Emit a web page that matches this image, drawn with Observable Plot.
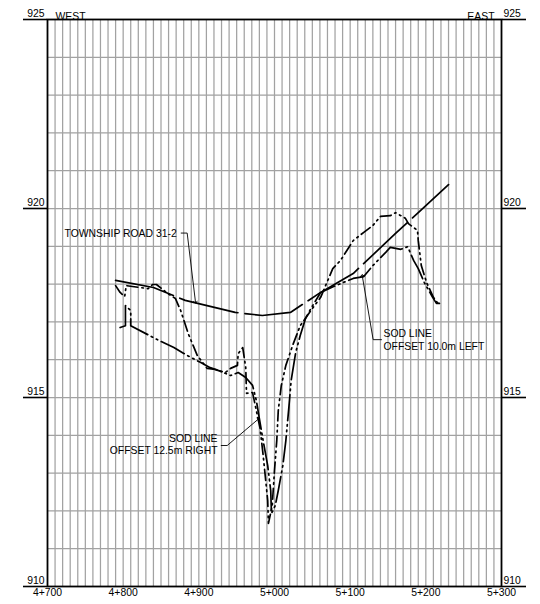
<!DOCTYPE html>
<html>
<head>
<meta charset="utf-8">
<script src="https://cdn.jsdelivr.net/npm/d3@7"></script>
<script src="https://cdn.jsdelivr.net/npm/@observablehq/plot@0.6"></script>
<style>
  html, body { margin: 0; padding: 0; background: #fff; }
</style>
</head>
<body>
<div id="chart"></div>
<script>
// Station ticks (m) and elevation ticks (m)
const stationTicks = [4700, 4800, 4900, 5000, 5100, 5200, 5300];
const elevTicks = [910, 915, 920, 925];

// Township Road 31-2 centreline profile
const roadStation = [4790, 4840, 4882, 4948, 4984, 5021, 5061, 5104, 5160, 5190, 5230];
const roadElev    = [918.10, 917.91, 917.57, 917.25, 917.17, 917.25, 917.78, 918.28, 919.34, 919.89, 920.63];

// Sod line profile (dash-dot-dot, peaked)
const sodAStation = [4790, 4796, 4802, 4804, 4833, 4839, 4844, 4859, 4869, 4876, 4886, 4898, 4911, 4922, 4935, 4942, 4951, 4952, 4958, 4962, 4963, 4971, 4981, 4985, 4988, 4991, 4992, 4997, 5000, 5003, 5005, 5009, 5015, 5024, 5034, 5048, 5061, 5077, 5087, 5104, 5118, 5130, 5140, 5153, 5160, 5167, 5173, 5177, 5189, 5190, 5194, 5201, 5210, 5216];
const sodAElev    = [917.96, 917.78, 917.67, 917.96, 917.88, 917.99, 917.99, 917.75, 917.62, 917.30, 916.69, 916.11, 915.77, 915.74, 915.66, 915.77, 915.85, 916.16, 916.32, 915.79, 915.11, 915.13, 914.18, 913.47, 912.88, 912.28, 911.67, 912.14, 913.07, 913.86, 914.66, 915.32, 915.85, 916.38, 916.90, 917.30, 917.65, 918.41, 918.62, 919.15, 919.37, 919.55, 919.79, 919.81, 919.89, 919.81, 919.74, 919.60, 919.42, 919.15, 918.49, 918.04, 917.65, 917.49];

// Sod line profile (long dash-dot-dot)
const sodBStation = [4796, 4803, 4803, 4810, 4810, 4847, 4867, 4885, 4902, 4915, 4929, 4942, 4952, 4962, 4971, 4976, 4980, 4985, 4991, 4995, 4996, 5001, 5005, 5011, 5015, 5019, 5022, 5028, 5034, 5041, 5048, 5061, 5081, 5104, 5118, 5130, 5147, 5153, 5167, 5176, 5184, 5190, 5198, 5209, 5214, 5218];
const sodBElev    = [916.85, 916.90, 917.43, 917.30, 916.90, 916.51, 916.32, 916.11, 915.93, 915.79, 915.69, 915.58, 915.66, 915.53, 915.32, 914.92, 914.44, 913.86, 913.20, 912.54, 911.93, 912.14, 912.54, 913.20, 913.86, 914.74, 915.45, 916.19, 916.64, 917.09, 917.35, 917.78, 917.96, 918.15, 918.20, 918.49, 918.84, 918.97, 918.92, 918.99, 918.62, 918.41, 918.04, 917.65, 917.49, 917.49];

// Annotation labels: left-aligned and right-aligned
const startText    = ["TOWNSHIP ROAD 31-2", "SOD LINE", "OFFSET 10.0m LEFT"];
const startStation = [4722.5, 5144, 5144];
const startElev    = [919.34, 916.69, 916.35];
const endText      = ["SOD LINE", "OFFSET 12.5m RIGHT"];
const endStation   = [4924.7, 4924.7];
const endElev      = [913.91, 913.59];

// Leader lines
const leaderRoadS = [4876.7, 4884.6, 4895.6];
const leaderRoadE = [919.35, 919.35, 917.52];
const leaderLeftS = [5141.4, 5130.4, 5115.9];
const leaderLeftE = [916.53, 916.53, 918.23];
const leaderRightS = [4929.6, 4937.5, 4979.3];
const leaderRightE = [913.73, 913.73, 914.44];

const toRows = (xs, ys) => xs.map((x, i) => ({x, y: ys[i]}));
const road = toRows(roadStation, roadElev);
const sodA = toRows(sodAStation, sodAElev);
const sodB = toRows(sodBStation, sodBElev);
const startLabels = startText.map((t, i) => ({t, x: startStation[i], y: startElev[i]}));
const endLabels = endText.map((t, i) => ({t, x: endStation[i], y: endElev[i]}));

const fmtStation = d => `${Math.floor(d / 1000)}+${String(d % 1000).padStart(3, "0")}`;
const FS = 10.4;

const chart = Plot.plot({
  width: 540,
  height: 604,
  marginLeft: 47,
  marginRight: 39,
  marginTop: 19,
  marginBottom: 18,
  x: {domain: [4700, 5300], label: null},
  y: {domain: [910, 925], label: null},
  style: {fontFamily: "'Liberation Sans', Arial, sans-serif", fontSize: FS + "px", background: "#fff", color: "#000"},
  marks: [
    Plot.ruleX(d3.range(4710, 5300, 10), {stroke: "#a2a2a2", strokeWidth: 1.25}),
    Plot.ruleY(d3.range(911, 925, 1), {stroke: "#a2a2a2", strokeWidth: 1.25}),
    Plot.axisX(stationTicks, {tickSize: 0, tickPadding: 2, tickFormat: fmtStation, fontSize: FS, fill: "#000"}),
    // tick lines extending outward
    Plot.axisY(elevTicks, {anchor: "left", tickSize: 24, text: null, stroke: "#000", strokeWidth: 1.6}),
    Plot.axisY(elevTicks, {anchor: "right", tickSize: 24, text: null, stroke: "#000", strokeWidth: 1.6}),
    // tick labels sitting on the tick lines
    Plot.axisY(elevTicks, {anchor: "left", tickSize: 0, tickPadding: 3, dy: -6, tickFormat: d => String(d), fontSize: FS, fill: "#000"}),
    Plot.axisY(elevTicks, {anchor: "right", tickSize: 0, tickPadding: 2, dy: -6, tickFormat: d => String(d), fontSize: FS, fill: "#000"}),
    Plot.frame({stroke: "#000", strokeWidth: 1.8}),
    Plot.text(["WEST"], {frameAnchor: "top-left", dx: 8, dy: -7, textAnchor: "start", fontSize: FS, fill: "#000"}),
    Plot.text(["EAST"], {frameAnchor: "top-right", dx: -7, dy: -7, textAnchor: "end", fontSize: FS, fill: "#000"}),
    Plot.line(road, {x: "x", y: "y", stroke: "#000", strokeWidth: 1.7, strokeDasharray: "60,7"}),
    Plot.line(sodB, {x: "x", y: "y", stroke: "#000", strokeWidth: 1.7, strokeDasharray: "26,4,1.6,4,1.6,4"}),
    Plot.line(sodA, {x: "x", y: "y", stroke: "#000", strokeWidth: 1.7, strokeDasharray: "11,4,1.6,4,1.6,4"}),
    Plot.line(toRows(leaderRoadS, leaderRoadE), {x: "x", y: "y", stroke: "#000", strokeWidth: 0.9, markerEnd: "arrow"}),
    Plot.line(toRows(leaderLeftS, leaderLeftE), {x: "x", y: "y", stroke: "#000", strokeWidth: 0.9, markerEnd: "arrow"}),
    Plot.line(toRows(leaderRightS, leaderRightE), {x: "x", y: "y", stroke: "#000", strokeWidth: 0.9, markerEnd: "arrow"}),
    Plot.text(startLabels, {x: "x", y: "y", text: "t", textAnchor: "start", fontSize: FS, fill: "#000"}),
    Plot.text(endLabels, {x: "x", y: "y", text: "t", textAnchor: "end", fontSize: FS, fill: "#000"})
  ]
});
document.getElementById("chart").appendChild(chart);
</script>
</body>
</html>
